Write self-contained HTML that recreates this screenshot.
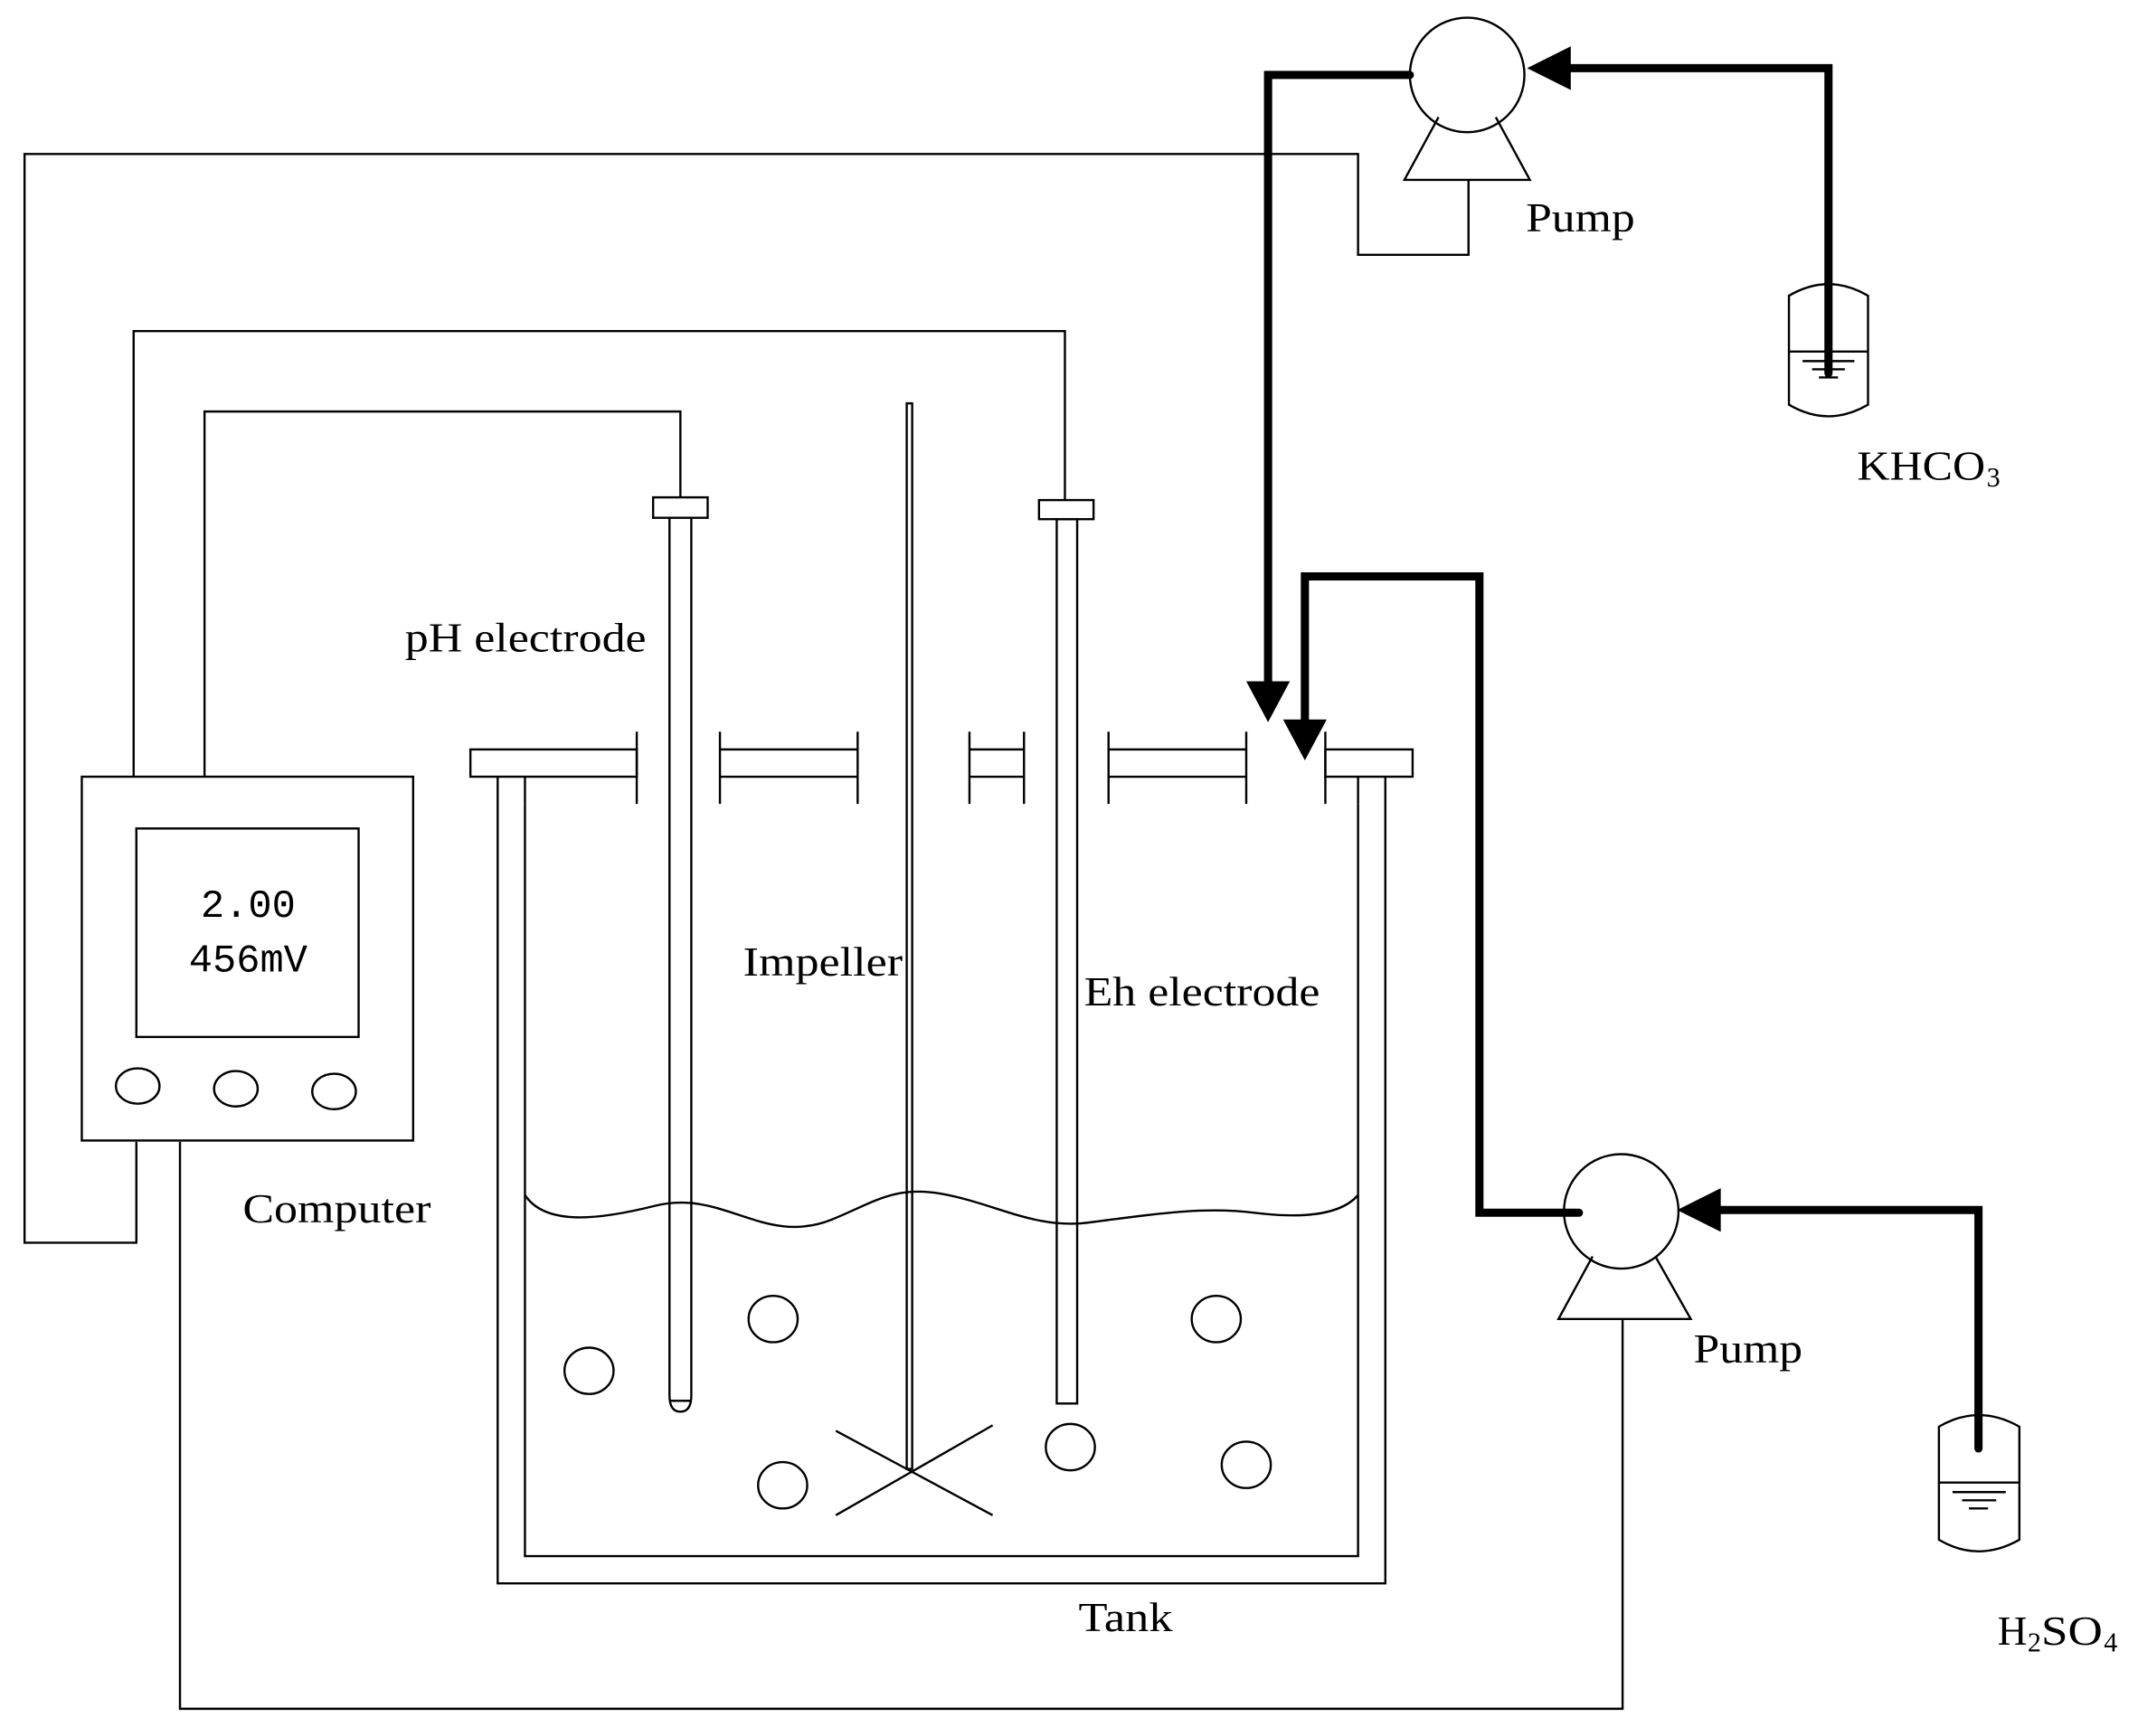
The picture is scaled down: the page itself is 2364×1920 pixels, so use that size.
<!DOCTYPE html>
<html><head><meta charset="utf-8"><style>html,body{margin:0;padding:0;background:#fff}svg{display:block}</style></head>
<body>
<svg width="2364" height="1920" viewBox="0 0 1568 1274" preserveAspectRatio="none" xmlns="http://www.w3.org/2000/svg">
<g fill="none" stroke="#000" stroke-width="1.6">
<polyline points="100,838 100,912 18,912 18,113 996,113 996,187 1077,187 1077,132"/>
<polyline points="98,570 98,243 781,243 781,367"/>
<polyline points="150,570 150,302 499,302 499,365"/>
<polyline points="132,838 132,1254 1190,1254 1190,968"/>
<rect x="60" y="570" width="243" height="267"/>
<rect x="100" y="608" width="163" height="153"/>
<ellipse cx="101" cy="797" rx="16" ry="13"/>
<ellipse cx="173" cy="799" rx="16" ry="13"/>
<ellipse cx="245" cy="801" rx="16" ry="13"/>
<polyline points="365,570 365,1162 1016,1162 1016,570"/>
<polyline points="385,590 385,1142 996,1142 996,590"/>
<rect x="345" y="550" width="122" height="20"/>
<line x1="467" y1="537" x2="467" y2="590"/>
<line x1="385" y1="570" x2="385" y2="590"/>
<line x1="528" y1="537" x2="528" y2="590"/><line x1="629" y1="537" x2="629" y2="590"/>
<line x1="528" y1="550" x2="629" y2="550"/><line x1="528" y1="570" x2="629" y2="570"/>
<line x1="711" y1="537" x2="711" y2="590"/><line x1="751" y1="537" x2="751" y2="590"/>
<line x1="711" y1="550" x2="751" y2="550"/><line x1="711" y1="570" x2="751" y2="570"/>
<line x1="813" y1="537" x2="813" y2="590"/><line x1="914" y1="537" x2="914" y2="590"/>
<line x1="813" y1="550" x2="914" y2="550"/><line x1="813" y1="570" x2="914" y2="570"/>
<rect x="972" y="550" width="64" height="20"/>
<line x1="972" y1="537" x2="972" y2="590"/>
<line x1="996" y1="570" x2="996" y2="590"/>
<rect x="479" y="365" width="40" height="15"/>
<path d="M491,380 V1024 Q491,1036 499,1036 Q507,1036 507,1024 V380"/>
<line x1="491" y1="1028" x2="507" y2="1028"/>
<rect x="762" y="367" width="40" height="14"/>
<rect x="775" y="381" width="15" height="649"/>
<rect x="665" y="296" width="4" height="782"/>
<line x1="613" y1="1050" x2="728" y2="1112"/>
<line x1="613" y1="1112" x2="728" y2="1046"/>
<path d="M385,877 C400,900 440,895 480,885 C530,872 560,915 610,895 C640,883 655,870 690,876 C730,883 760,903 800,897 C840,892 880,885 920,890 C960,895 985,890 996,877"/>
<ellipse cx="432" cy="1006" rx="18" ry="17"/>
<ellipse cx="567" cy="968" rx="18" ry="17"/>
<ellipse cx="574" cy="1090" rx="18" ry="17"/>
<ellipse cx="785" cy="1062" rx="18" ry="17"/>
<ellipse cx="892" cy="968" rx="18" ry="17"/>
<ellipse cx="914" cy="1075" rx="18" ry="17"/>
<circle cx="1076" cy="55" r="42"/>
<polyline points="1055,86 1030,132 1122,132 1097,86"/>
<circle cx="1189" cy="889" r="42"/>
<polyline points="1168,922 1143,968 1240,968 1214,922"/>
<path d="M1312,217 Q1341,200 1370,217 V297 Q1341,314 1312,297 Z"/>
<line x1="1312" y1="258" x2="1370" y2="258"/>
<line x1="1322" y1="265" x2="1360" y2="265"/>
<line x1="1329" y1="271" x2="1353" y2="271"/>
<line x1="1334" y1="277" x2="1348" y2="277"/>
<path d="M1422,1047 Q1451,1030 1481,1047 V1130 Q1451,1147 1422,1130 Z"/>
<line x1="1422" y1="1088" x2="1481" y2="1088"/>
<line x1="1432" y1="1095" x2="1471" y2="1095"/>
<line x1="1439" y1="1101" x2="1464" y2="1101"/>
<line x1="1444" y1="1107" x2="1458" y2="1107"/>
</g>
<g fill="none" stroke="#000" stroke-width="6" stroke-linecap="round" stroke-linejoin="miter">
<polyline points="1034,55 930,55 930,505"/>
<polyline points="1158,890 1085,890 1085,423 957,423 957,530"/>
<polyline points="1341,274 1341,50 1148,50"/>
<polyline points="1451,1063 1451,888 1258,888"/>
</g>
<g fill="#000">
<polygon points="914,500 946,500 930,530"/>
<polygon points="941,528 973,528 957,558"/>
<polygon points="1152,34 1152,66 1120,50"/>
<polygon points="1262,872 1262,904 1230,888"/>
</g>
<g font-family="Liberation Serif, serif" font-size="30" fill="#000">
<text x="297" y="478" textLength="177" lengthAdjust="spacingAndGlyphs">pH electrode</text>
<text x="545" y="716" textLength="117" lengthAdjust="spacingAndGlyphs">Impeller</text>
<text x="795" y="738" textLength="173" lengthAdjust="spacingAndGlyphs">Eh electrode</text>
<text x="791" y="1197" textLength="69" lengthAdjust="spacingAndGlyphs">Tank</text>
<text x="1119" y="170" textLength="80" lengthAdjust="spacingAndGlyphs">Pump</text>
<text x="1242" y="1000" textLength="80" lengthAdjust="spacingAndGlyphs">Pump</text>
<text x="178" y="897" textLength="138" lengthAdjust="spacingAndGlyphs">Computer</text>
<text x="1362" y="352" textLength="94" lengthAdjust="spacingAndGlyphs">KHCO</text>
<text x="1457" y="357" font-size="20">3</text>
<text x="1465" y="1207">H</text>
<text x="1487" y="1212" font-size="20">2</text>
<text x="1497" y="1207" textLength="45" lengthAdjust="spacingAndGlyphs">SO</text>
<text x="1543" y="1212" font-size="20">4</text>
</g>
<g font-family="Liberation Mono, monospace" font-size="29" fill="#000" text-anchor="middle">
<text x="182" y="673">2.00</text>
<text x="182" y="713">456mV</text>
</g>
</svg>
</body></html>
